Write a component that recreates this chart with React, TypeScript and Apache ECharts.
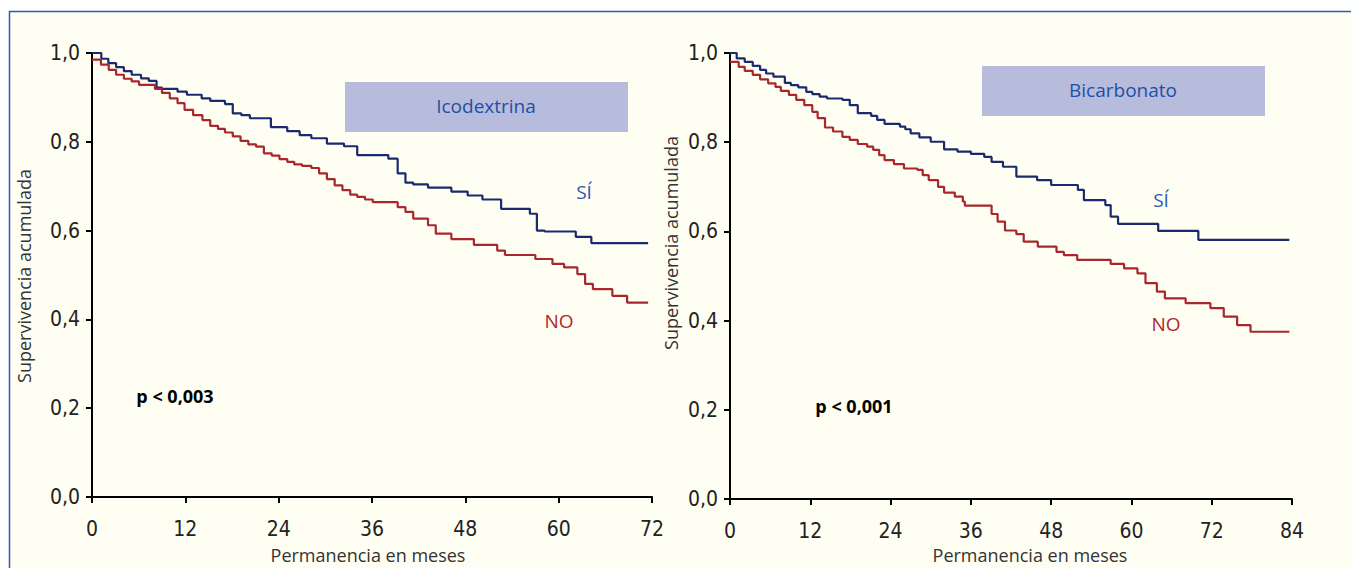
import React, { useEffect, useRef } from "react";
import * as echarts from "echarts";

// Icodextrina panel (months, cumulative survival)
const ICO_SI_T = [0, 1.2, 2.1, 3.1, 4.1, 5.1, 6.3, 7.3, 8.3, 9.0, 11.0, 12.2, 14.1, 15.2, 17.1, 18.1, 19.2, 20.3, 23.0, 25.1, 26.7, 28.2, 30.2, 32.4, 34.1, 38.1, 39.3, 40.3, 41.3, 43.2, 46.2, 48.3, 50.2, 52.6, 56.3, 57.2, 58.2, 62.2, 64.2, 71.5];
const ICO_SI_S = [1.0, 0.987, 0.977, 0.968, 0.959, 0.951, 0.943, 0.937, 0.922, 0.919, 0.913, 0.906, 0.898, 0.892, 0.885, 0.864, 0.86, 0.853, 0.833, 0.824, 0.815, 0.808, 0.796, 0.79, 0.77, 0.762, 0.729, 0.708, 0.704, 0.697, 0.688, 0.679, 0.67, 0.649, 0.638, 0.6, 0.598, 0.586, 0.572, 0.572];
const ICO_NO_T = [0, 1.15, 2.15, 3.1, 4.1, 5.1, 6.05, 8.1, 9.0, 10.0, 11.0, 11.9, 13.0, 14.2, 15.2, 16.2, 17.1, 18.1, 19.1, 20.1, 21.1, 22.1, 23.1, 24.1, 25.1, 26.0, 27.0, 28.2, 29.2, 30.2, 31.2, 32.2, 33.2, 34.1, 35.1, 36.1, 39.3, 40.3, 41.3, 43.2, 44.2, 46.2, 49.1, 52.1, 53.1, 57.0, 59.2, 60.7, 62.4, 63.4, 64.4, 66.9, 68.8, 71.5];
const ICO_NO_S = [0.985, 0.974, 0.962, 0.951, 0.942, 0.936, 0.928, 0.919, 0.91, 0.898, 0.887, 0.872, 0.86, 0.849, 0.836, 0.829, 0.821, 0.812, 0.802, 0.794, 0.789, 0.774, 0.769, 0.761, 0.755, 0.749, 0.746, 0.741, 0.729, 0.716, 0.702, 0.691, 0.681, 0.676, 0.67, 0.664, 0.653, 0.642, 0.627, 0.612, 0.593, 0.581, 0.568, 0.555, 0.545, 0.536, 0.525, 0.517, 0.502, 0.48, 0.468, 0.453, 0.438, 0.438];

// Bicarbonato panel
const BIC_SI_T = [0, 1.0, 2.2, 3.4, 4.5, 5.4, 6.5, 8.2, 9.1, 10.2, 11.4, 12.3, 13.4, 14.5, 16.8, 17.9, 19.1, 21.1, 22.0, 23.1, 25.4, 26.2, 27.0, 28.3, 30.0, 32.0, 34.0, 36.0, 38.0, 39.1, 40.8, 42.8, 45.9, 48.0, 52.0, 52.9, 56.1, 56.9, 58.0, 64.0, 70.0, 83.6];
const BIC_SI_S = [1.0, 0.988, 0.98, 0.971, 0.962, 0.954, 0.947, 0.933, 0.928, 0.923, 0.913, 0.908, 0.902, 0.898, 0.895, 0.883, 0.865, 0.859, 0.85, 0.841, 0.835, 0.829, 0.82, 0.811, 0.801, 0.784, 0.779, 0.774, 0.767, 0.756, 0.745, 0.723, 0.715, 0.704, 0.693, 0.67, 0.659, 0.633, 0.617, 0.601, 0.581, 0.581];
const BIC_NO_T = [0, 1.3, 2.2, 3.4, 4.5, 5.7, 6.8, 7.6, 8.8, 9.9, 11.1, 12.3, 13.1, 14.2, 15.4, 16.8, 17.9, 19.1, 20.5, 21.4, 22.3, 23.1, 24.5, 26.0, 28.0, 28.8, 29.7, 31.1, 32.0, 33.6, 34.8, 35.1, 39.1, 40.0, 41.1, 42.8, 43.9, 46.0, 48.8, 49.9, 51.9, 56.9, 58.9, 60.9, 62.1, 63.8, 65.0, 68.1, 71.8, 73.8, 75.8, 77.8, 83.6];
const BIC_NO_S = [0.98, 0.969, 0.96, 0.951, 0.941, 0.932, 0.924, 0.915, 0.906, 0.895, 0.883, 0.868, 0.854, 0.833, 0.824, 0.812, 0.805, 0.796, 0.79, 0.783, 0.771, 0.76, 0.751, 0.741, 0.738, 0.726, 0.715, 0.7, 0.687, 0.678, 0.667, 0.658, 0.639, 0.622, 0.602, 0.594, 0.577, 0.566, 0.554, 0.547, 0.536, 0.527, 0.517, 0.506, 0.484, 0.465, 0.45, 0.439, 0.428, 0.409, 0.39, 0.375, 0.375];

const X_MAX = [72, 84];
const TITLES = ["Icodextrina", "Bicarbonato"];
const P_VALUES = ["p < 0,003", "p < 0,001"];
const X_NAME = "Permanencia en meses";
const Y_NAME = "Supervivencia acumulada";

const zip = (t: number[], s: number[]) => t.map((v, i) => [v, s[i]]);

const NAVY = "#1b2a6e";
const RED = "#a9262c";
const BLUE_TXT = "#2a58b0";
const RED_TXT = "#b3262a";
const TICK_FONT = "'Liberation Sans Narrow', 'DejaVu Sans Condensed', 'Open Sans', sans-serif";
const TXT_FONT = "'Open Sans', 'Noto Sans', sans-serif";

export default function App() {
  const ref = useRef<HTMLDivElement>(null);
  useEffect(() => {
    if (!ref.current) return;
    const chart = echarts.init(ref.current, null, { renderer: "svg" });
    const axisCommon = {
      axisLine: { show: true, lineStyle: { color: "#000", width: 2 } },
      axisTick: { show: true, length: 6, lineStyle: { color: "#000", width: 2 } },
      splitLine: { show: false },
    };
    const xAxis = [0, 1].map((i) => ({
      type: "value",
      gridIndex: i,
      min: 0,
      max: X_MAX[i],
      interval: 12,
      ...axisCommon,
      axisLabel: { color: "#222", fontSize: 21, fontFamily: TICK_FONT, margin: 21 },
    }));
    const yAxis = [0, 1].map((i) => ({
      type: "value",
      gridIndex: i,
      min: 0,
      max: 1,
      interval: 0.2,
      ...axisCommon,
      axisLabel: {
        color: "#222",
        fontSize: 21,
        fontFamily: TICK_FONT,
        margin: 12,
        formatter: (v: number) => v.toFixed(1).replace(".", ","),
      },
    }));
    const mk = (name: string, data: number[][], idx: number, color: string) => ({
      type: "line",
      name,
      xAxisIndex: idx,
      yAxisIndex: idx,
      step: "end",
      data,
      symbol: "none",
      lineStyle: { color, width: 2.2 },
      z: 3,
    });
    const txt = (text: string, x: number, y: number, opts: any = {}) => ({
      type: "text",
      x,
      y,
      style: {
        text,
        fill: opts.fill || "#333",
        fontSize: opts.fontSize || 17,
        fontFamily: opts.fontFamily || TXT_FONT,
        fontWeight: opts.fontWeight || "normal",
        align: "center",
        verticalAlign: "middle",
      },
      rotation: opts.rotation || 0,
      z: 10,
    });
    chart.setOption({
      animation: false,
      grid: [
        { left: 92, top: 53, right: 699, bottom: 71 },
        { left: 730, top: 53, right: 59, bottom: 69 },
      ],
      xAxis,
      yAxis,
      series: [
        mk("ico-si", zip(ICO_SI_T, ICO_SI_S), 0, NAVY),
        mk("ico-no", zip(ICO_NO_T, ICO_NO_S), 0, RED),
        mk("bic-si", zip(BIC_SI_T, BIC_SI_S), 1, NAVY),
        mk("bic-no", zip(BIC_NO_T, BIC_NO_S), 1, RED),
      ],
      graphic: [
        {
          type: "rect",
          shape: { x: 9.5, y: 11.5, width: 1400, height: 600 },
          style: { fill: "#fffef3", stroke: "#2b5bb3", lineWidth: 1.5 },
          z: -10,
        },
        { type: "rect", shape: { x: 345, y: 82, width: 283, height: 50 }, style: { fill: "#b8bcdc" }, z: 5 },
        { type: "rect", shape: { x: 982, y: 66, width: 283, height: 50 }, style: { fill: "#b8bcdc" }, z: 5 },
        txt(TITLES[0], 486, 106, { fill: "#2050a8", fontSize: 19 }),
        txt(TITLES[1], 1123, 90, { fill: "#2050a8", fontSize: 19 }),
        txt("SÍ", 584, 192, { fill: BLUE_TXT, fontSize: 19 }),
        txt("NO", 559, 321, { fill: RED_TXT, fontSize: 19 }),
        txt("SÍ", 1161, 200, { fill: BLUE_TXT, fontSize: 19 }),
        txt("NO", 1166, 324, { fill: RED_TXT, fontSize: 19 }),
        txt(P_VALUES[0], 175, 396, { fill: "#000", fontSize: 18, fontWeight: "bold" }),
        txt(P_VALUES[1], 854, 406, { fill: "#000", fontSize: 18, fontWeight: "bold" }),
        txt(X_NAME, 368, 555, { fontSize: 18 }),
        txt(X_NAME, 1030, 555, { fontSize: 18 }),
        txt(Y_NAME, 24, 276, { fontSize: 18, rotation: Math.PI / 2 }),
        txt(Y_NAME, 671, 243, { fontSize: 18, rotation: Math.PI / 2 }),
      ],
    });
    return () => chart.dispose();
  }, []);
  return (
    <div
      ref={ref}
      style={{ position: "fixed", left: 0, top: 0, width: 1351, height: 568, background: "#fff" }}
    />
  );
}
